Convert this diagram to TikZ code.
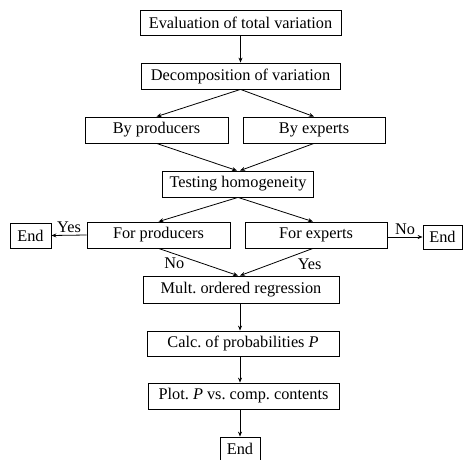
\documentclass[tikz,border=0pt]{standalone}
\usepackage{fontspec}
\setmainfont{Liberation Serif}
\usetikzlibrary{arrows.meta, positioning}

\begin{document}
\begin{tikzpicture}[x=1pt,y=-1pt,>={Stealth[length=5pt,width=4pt]},line width=0.8pt,
        every node/.style={font=\fontsize{16.3}{19}\selectfont},
        stepbox/.style={draw,inner sep=0pt,minimum height=26pt},
        endbox/.style={stepbox,minimum width=40pt,minimum height=25pt},
        lbl/.style={inner sep=2pt}]

        \useasboundingbox (0,0) rectangle (463,460);

        % main column
        \node[stepbox,minimum width=201pt,minimum height=25pt] (eval) at (240.5,22.5) {Evaluation of total variation};
        \node[stepbox,minimum width=199pt] (decomp) at (240.5,76) {Decomposition of variation};
        \node[stepbox,minimum width=143pt] (byprod) at (156.5,130) {By producers};
        \node[stepbox,minimum width=142pt] (byexp) at (314,130) {By experts};
        \node[stepbox,minimum width=151pt] (homog) at (238,184) {Testing homogeneity};
        \node[stepbox,minimum width=143pt] (forprod) at (158.5,235) {For producers};
        \node[stepbox,minimum width=142pt] (forexp) at (316,235) {For experts};
        \node[endbox,minimum width=41pt] (endl) at (30.5,235.5) {End};
        \node[endbox,minimum width=39pt,minimum height=24pt] (endr) at (442.5,237) {End};
        \node[stepbox,minimum width=196pt,minimum height=27pt] (regr) at (241,289.5) {Mult.\ ordered regression};
        \node[stepbox,minimum width=192pt,minimum height=25pt] (prob) at (243,343.5) {Calc.\ of probabilities \textit{P}};
        \node[stepbox,minimum width=191pt] (plotp) at (243.5,396) {Plot.\ \textit{P} vs.\ comp.\ contents};
        \node[endbox,minimum height=23pt] (endb) at (240,448.5) {End};

        \draw[->] (eval) -- (decomp);
        \draw[->] (decomp.south) -- (byprod.north);
        \draw[->] (decomp.south) -- (byexp.north);
        \draw[->] (byprod.south) -- ([xshift=-1pt]homog.north);
        \draw[->] (byexp.south) -- ([xshift=2pt]homog.north);
        \draw[->] (homog.south) -- (forprod.north);
        \draw[->] (homog.south) -- ([xshift=-3pt]forexp.north);
        \draw[->] (forprod.west) -- node[above,lbl] {Yes} (endl.east);
        \draw[->] (forexp.east |- endr) -- node[above,lbl] {No} (endr.west);
        \draw[->] (forprod.south) -- node[pos=0.2,below,lbl,yshift=-2pt] {No} ([xshift=-3pt]regr.north);
        \draw[->] ([xshift=-3pt]forexp.south) -- node[pos=0.1,below,lbl,xshift=4pt,yshift=-5pt] {Yes} ([xshift=-1pt]regr.north);
        \draw[->] (regr.south -| endb) -- (prob.north -| endb);
        \draw[->] (prob.south -| endb) -- (plotp.north -| endb);
        \draw[->] (plotp.south -| endb) -- (endb.north);
\end{tikzpicture}
\end{document}
